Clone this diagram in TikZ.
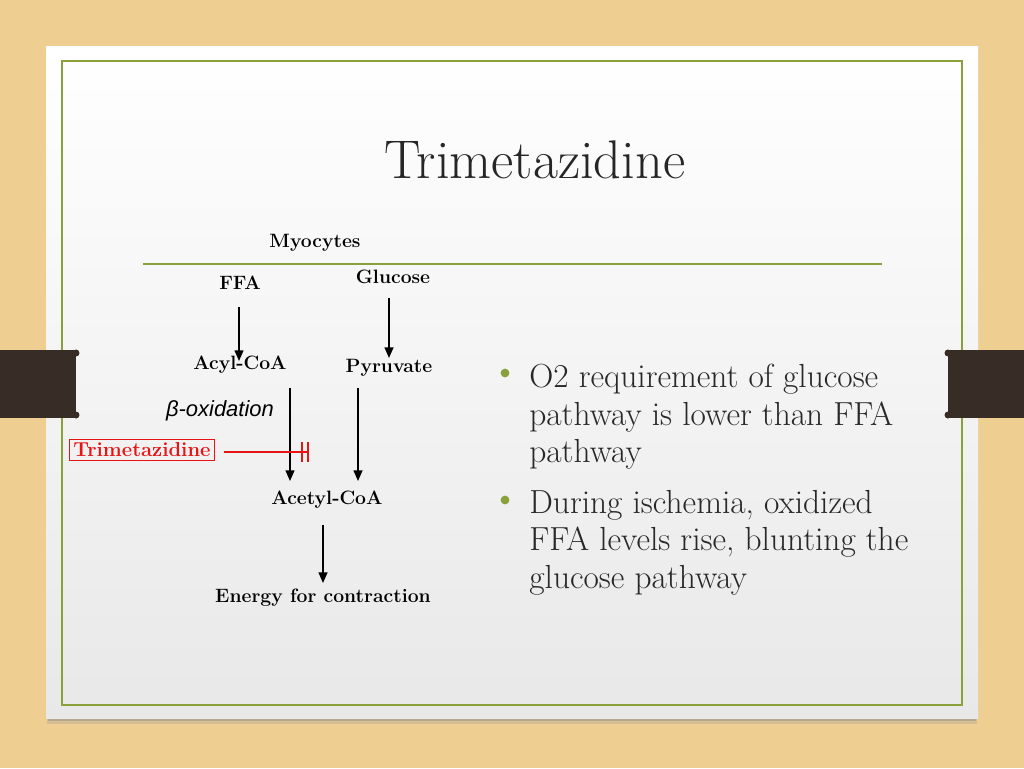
\documentclass[tikz,border=0pt]{standalone}
\usepackage{fontspec}
\usetikzlibrary{arrows.meta}
\newfontfamily\arialfont{Liberation Sans}
\definecolor{wood}{RGB}{239,206,146}
\definecolor{olive}{RGB}{138,160,58}
\definecolor{tab}{RGB}{56,45,38}
\definecolor{inkgray}{RGB}{38,38,38}
\definecolor{bodygray}{RGB}{40,40,40}
\definecolor{tmzred}{RGB}{230,20,20}

\begin{document}
\begin{tikzpicture}[x=0.02cm,y=-0.02cm,
        lbl/.style={font=\fontsize{11}{13}\selectfont\bfseries, text=black, inner sep=1pt},
        path/.style={-{Triangle[length=6pt,width=5pt]}, line width=0.9pt},
        bullet/.style={circle, fill=olive, inner sep=0pt, minimum size=5pt}]
    
        % slide
        \useasboundingbox (0,0) rectangle (1024,768);
        \fill[wood] (0,0) rectangle (1024,768);
        \fill[black!40, opacity=0.3] (47,60) rectangle (977,724);
        \fill[black!50, opacity=0.35] (48,60) rectangle (976,721);
        \shade[top color=white, bottom color=black!9] (46,46) rectangle (978,718);
        \draw[olive, line width=1.6pt] (62,61) rectangle (962,705);
        \fill[tab] (0,350) rectangle (76,418);
        \fill[tab] (948,350) rectangle (1024,418);
        \fill[tab] (76,353) circle (3.5) (76,415) circle (3.5);
        \fill[tab] (948,353) circle (3.5) (948,415) circle (3.5);
        
        \node[text=inkgray, font=\fontsize{31}{36}\selectfont] (title) at (535,160) {Trimetazidine};
        
        \node[lbl] (myo) at (315,243) {Myocytes};
        \coordinate (rl) at (143,264);
        \coordinate (rr) at (882,264);
        \draw[olive, line width=1.2pt] (rl) -- (rr);
        
        \node[lbl] (ffa) at (240,283) {FFA};
        \node[lbl] (glc) at (393,277) {Glucose};
        \node[lbl] (acyl) at (240,365) {Acyl-CoA};
        \node[lbl] (pyr) at (389,368) {Pyruvate};
        \node[font=\arialfont\itshape\fontsize{12.5}{14}\selectfont] (box) at (220,411) {β-oxidation};
        \node[lbl, font=\fontsize{11.5}{13}\selectfont\bfseries, text=tmzred, draw=tmzred, line width=0.6pt, inner sep=2pt] (tmz) at (142,450) {Trimetazidine};
        \node[lbl] (acet) at (327,500) {Acetyl-CoA};
        \node[lbl] (nrg) at (323,598) {Energy for contraction};
        
        \coordinate (f1) at (239,307);
        \coordinate (f2) at (239,361);
        \coordinate (g1) at (389,298);
        \coordinate (g2) at (389,358);
        \coordinate (a1) at (290,388);
        \coordinate (p1) at (358,388);
        \coordinate (e1) at (323,525);
        \coordinate (inh) at (309,452);
        
        \draw[path] (f1) -- (f2);
        \draw[path] (g1) -- (g2);
        \draw[path] (a1) -- (a1 |- 0,481);
        \draw[path] (p1) -- (p1 |- 0,481);
        \draw[path] (e1) -- (e1 |- 0,583);
        \draw[tmzred, line width=1pt, -{Bar[width=11pt,sep=2.5pt]Bar[width=11pt]}] (tmz.east) ++(9,2) -- (inh);
        
        \node[bullet] (b1) at (505,373) {};
        \node[bullet] (b2) at (505,500) {};
        \node[anchor=north west, align=left, text=bodygray, font=\fontsize{19}{21.2}\selectfont, inner sep=0pt] (t1) at (529,364)
            {O2 requirement of glucose\\pathway is lower than FFA\\pathway};
        \node[anchor=north west, align=left, text=bodygray, font=\fontsize{19}{21.2}\selectfont, inner sep=0pt] (t2) at (529,490)
            {During ischemia, oxidized\\FFA levels rise, blunting the\\glucose pathway};
        
        \end{tikzpicture}
\end{document}
